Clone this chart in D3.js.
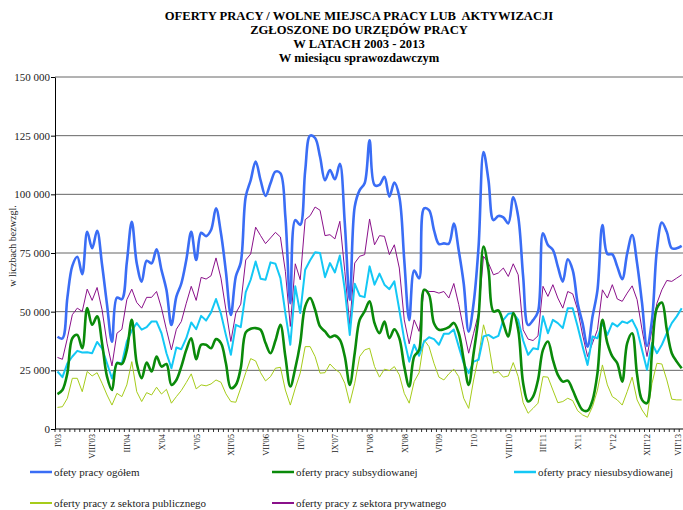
<!DOCTYPE html>
<html><head><meta charset="utf-8">
<script src="https://cdn.jsdelivr.net/npm/d3@7"></script>
<style>body{margin:0;background:#fff}svg{display:block}text{font-family:"Liberation Serif","Times New Roman",serif}</style>
</head><body><svg id="c" width="683" height="510"></svg>
<script>
// Data (thousands)
const romans = ["I","II","III","IV","V","VI","VII","VIII","IX","X","XI","XII"];
const years = ["03","04","05","06","07","08","09","10","11","12","13"];
const months = [];
years.forEach(yy => romans.forEach(r => months.push(r + "'" + yy)));
months.splice(127); // I'03 .. VII'13

const total = [39.3,38.6,56,69.5,73.4,66,84,77,84.5,70,53,37.2,
56,55.3,71,88.3,70.6,62.8,71.7,70.6,76.6,67.7,59.2,44.3,
56.4,62,72,84,72,83.6,82.2,84.8,94,83.4,67,48.6,
65,71,99,106,114,106,99.3,104.7,109.7,109,90.5,53.6,
89,87,110,125,124,116,106,110.4,106.4,113,87.6,55,
94.7,101.8,104.7,123,104,104,107.5,99,105,99,72,46.4,
67.5,64.2,94,93.3,84.8,78.8,79.1,79,87.5,76,62,41.5,
53.6,77.7,118,106,89,90.8,90.2,87.6,98.7,90.5,64.9,44.3,
46.4,50,83.4,78.4,76.3,69.2,62.8,72.3,67.7,53.6,45,35.1,
47.9,59.2,86.9,74.6,74.4,69.2,63.8,74.8,82.7,70.6,53.6,35.4,
46.4,76.3,88,84,77,77,78];
const subsidized = [14.9,16.6,23.8,38.7,40.1,34.4,51.5,44.4,48,36.6,22.3,16.6,
28,27.7,33.7,46.5,28,21.6,28.3,24.5,30.9,26.6,27.7,18.8,
20.9,26.6,33.7,38.7,29.7,35.9,35.9,34.4,38.3,36.6,28,17.4,
18.8,26,41.2,42.7,43,42.3,36.6,32.3,37.7,44.4,30.9,18.1,
25.9,36.6,52.2,55.8,50.8,43.7,41.6,39.1,39.8,38,30.9,18.8,
32.3,46.5,50.1,54.4,45.1,40.8,45.8,38.7,42.5,38.7,26.6,18.1,
30.9,33.7,59.3,57.2,45.1,42.3,42.5,43.4,45.2,40.8,29.5,18.8,
32.3,48,77.8,67.9,50.1,50.5,45.1,39.4,49.4,42.3,19.5,11.7,
13.8,20.9,33.7,37.3,29.5,23.1,20.2,20.6,16.6,11.7,8.1,7.8,
12.2,23.8,46.5,36.6,30.9,28,20.2,36.6,40.8,23.1,12.4,11,
32.3,51.5,53.9,42.3,32.3,28.7,25.9];
const unsubsidized = [24.5,22.1,28,30.9,33.3,32.6,32.7,32.3,37.1,34.4,28,21.5,
28.3,28,37.3,42,45.1,42.3,43.4,45.8,45.8,40.8,32.3,25.9,
34.7,34,38.7,45.4,42.5,48.2,46.2,49.7,55.4,49.1,40,31.6,
44.4,43.4,58.3,63.6,71.4,64,63.6,71,70.4,64.3,49.4,35.9,
60.8,49.4,67.9,71.9,75.3,75,64.7,70.7,66.7,73.9,59.3,40.1,
61.9,56.8,56.2,69.3,61.5,66.2,61.5,59.6,62.9,50.8,38,28.7,
35.9,31.2,37.3,39.1,38.3,35.9,40.6,40.6,42.4,35.1,28,23.8,
28.7,29.5,39.4,40.1,38.7,39.7,46.5,49.1,49.4,46.5,37.7,31.6,
34.4,34,48,40.8,46.5,45.1,43,51.5,51.5,43.7,35.1,27.3,
39.4,38.7,45.1,40.1,45.1,43.7,45.8,45.1,46.5,42.3,33.7,25.2,
36.6,32.3,35.9,40.8,45.1,48,51.5];
const publicSector = [9.2,9.5,13.1,21.6,21.6,15.9,24.5,22.6,24,19.5,14.5,10.2,
15.2,13.8,18.8,28.7,15.9,11.7,15.5,14.5,17.8,14.9,16.9,11,
13.8,16.4,19.8,23.5,17.1,18.8,18.4,19.2,20.9,19.9,15,11.7,
11.4,17.5,24,30,29,24,20.5,22.3,25.9,26.3,16.6,10.2,
17.4,23.8,35.1,35.1,30.9,23.8,24,27.7,25.5,24,19.5,11,
19.5,30.9,33.7,34.4,26.6,22.1,25.5,24.9,26.6,23.1,15.2,11,
20.2,24,38,35.1,28,22.1,20.9,23.5,25.5,22.3,13.1,8.8,
20.9,30.9,44.4,36.6,23.8,24.5,22.1,22.6,28.3,22.3,11.2,6.7,
8.8,11,22.3,22.1,16.6,11.2,11.7,13.1,12.1,7.8,6,5,
9.5,16.6,27.3,18.8,13.8,12.4,10.2,15.9,22.1,12.4,8.1,5,
19.5,28,27.7,20.9,12.7,12.4,12.4];
const privateSector = [30.5,29.7,38.7,48.7,51.5,50.1,59.6,54.8,60.3,50.8,36.6,26.9,
40.8,42.5,55.1,59.6,53.9,51.5,56.1,56.1,58.6,51.5,42.3,33.7,
42.5,45.8,53.6,60.8,54.8,64.6,63.9,65.3,72.9,64.3,50.8,37.3,
49.4,53.2,72,74.6,86,82.4,79,81.4,83.8,81.8,67.2,43.7,
70.4,63.6,89.2,90.9,94.6,93.2,82.4,82.8,81,88.5,67.2,44.4,
70.7,73.6,74.3,89.5,78.5,82.4,82.1,74.3,78.5,68.6,46.5,36.3,
46.5,41.6,59.6,58.6,58.6,57.9,58.6,55.8,62,53,42.3,32.3,
40.8,49.4,73.6,70.7,65.7,66.5,68.6,65,70.4,65.7,42.3,38.3,
37.7,39.7,60.8,56.5,61.5,55.8,51.5,58.6,57.6,50.8,40.1,30.9,
36.6,42.3,59.3,55.8,61.5,55.4,54.4,57.9,61,55.1,42.3,30.9,
42.3,53.6,59.3,63.3,62.9,64.3,65.7];

const yTicks = [0,25,50,75,100,125,150];
const yTickLabels = ["0","25 000","50 000","75 000","100 000","125 000","150 000"];
const xLabelEvery = 7;
const titleLines = ["OFERTY PRACY / WOLNE MIEJSCA PRACY LUB  AKTYWIZACJI","ZGŁOSZONE DO URZĘDÓW PRACY","W LATACH 2003 - 2013","W miesiącu sprawozdawczym"];
const yTitle = "w liczbach bezwzgl.";

const series = [
  {name:"ofety pracy ogółem", data: total, color:"#3a6df5", w:2.6, smooth:true},
  {name:"oferty pracy subsydiowanej", data: subsidized, color:"#0a8a0a", w:2.6, smooth:true},
  {name:"oferty pracy niesubsydiowanej", data: unsubsidized, color:"#14c8f5", w:2, smooth:false},
  {name:"oferty pracy z sektora publicznego", data: publicSector, color:"#a6cc1a", w:1, smooth:false},
  {name:"oferty pracy z sektora prywatnego", data: privateSector, color:"#8a108a", w:1, smooth:false}
];

const svg = d3.select("#c");
const pLeft = 55, pTop = 77, pBottom = 429, step = 4.954;
const x = d3.scaleBand().domain(months).range([pLeft, pLeft + months.length*step]);
const y = d3.scaleLinear().domain([0,150]).range([pBottom, pTop]);
const cx = m => x(m) + x.bandwidth()/2;

// title
svg.append("g").selectAll("text").data(titleLines).join("text")
  .attr("x", 359).attr("y", (d,i)=>20 + i*14).attr("text-anchor","middle")
  .attr("font-size", 12.6).attr("font-weight","bold").attr("xml:space","preserve")
  .style("white-space","pre").text(d=>d);

// gridlines
svg.append("g").selectAll("line").data(yTicks.filter(d=>d>0)).join("line")
  .attr("x1", pLeft).attr("x2", 684).attr("y1", d=>y(d)).attr("y2", d=>y(d))
  .attr("stroke", "#666").attr("stroke-width", 1);

// y axis
const yAxis = d3.axisLeft(y).tickValues(yTicks).tickSize(4).tickSizeOuter(0)
  .tickFormat((d,i)=>yTickLabels[i]);
const ga = svg.append("g").attr("transform", `translate(${pLeft},0)`).call(yAxis);
ga.select(".domain").attr("stroke","#000");
ga.selectAll(".tick line").attr("stroke","#000");
ga.selectAll("text").attr("font-family","Liberation Serif").attr("font-size",11).attr("fill","#222").attr("x",-5);

svg.append("text").attr("transform",`translate(16,246) rotate(-90)`).attr("text-anchor","middle")
  .attr("font-size",10).attr("fill","#222").text(yTitle);

// lines (total drawn last)
const order = [4,3,2,1,0];
order.forEach(k=>{
  const s = series[k];
  const line = d3.line().x((d,i)=>cx(months[i])).y(d=>y(d))
    .curve(s.smooth ? d3.curveCatmullRom.alpha(0.5) : d3.curveLinear);
  svg.append("path").datum(s.data).attr("d", line).attr("fill","none")
    .attr("stroke", s.color).attr("stroke-width", s.w).attr("stroke-linejoin","round");
});

// x axis
const gx = svg.append("g");
gx.append("line").attr("x1",pLeft).attr("x2",684).attr("y1",pBottom).attr("y2",pBottom).attr("stroke","#000");
gx.selectAll("line.t").data(months).join("line").attr("class","t")
  .attr("x1", d=>x(d)).attr("x2", d=>x(d)).attr("y1", pBottom).attr("y2", pBottom+3)
  .attr("stroke","#000").attr("stroke-width",0.8);
gx.selectAll("text").data(months.filter((d,i)=>i%xLabelEvery===0)).join("text")
  .attr("transform", d=>`translate(${Math.min(cx(d)+0.5, 678)},${pBottom+5}) rotate(-90)`)
  .attr("text-anchor","end").attr("dy","0.33em").attr("font-size",8.5).attr("fill","#222").text(d=>d);

// legend
const legPos = [[30,472],[272,472],[514,472],[30,503],[272,503]];
series.forEach((s,i)=>{
  const [lx,ly] = legPos[i];
  svg.append("line").attr("x1",lx).attr("x2",lx+22).attr("y1",ly).attr("y2",ly)
    .attr("stroke",s.color).attr("stroke-width", i<3 ? 2.5 : 2);
  svg.append("text").attr("x",lx+24).attr("y",ly).attr("dy","0.33em")
    .attr("font-size",11).attr("fill","#222").text(s.name);
});
</script></body></html>
